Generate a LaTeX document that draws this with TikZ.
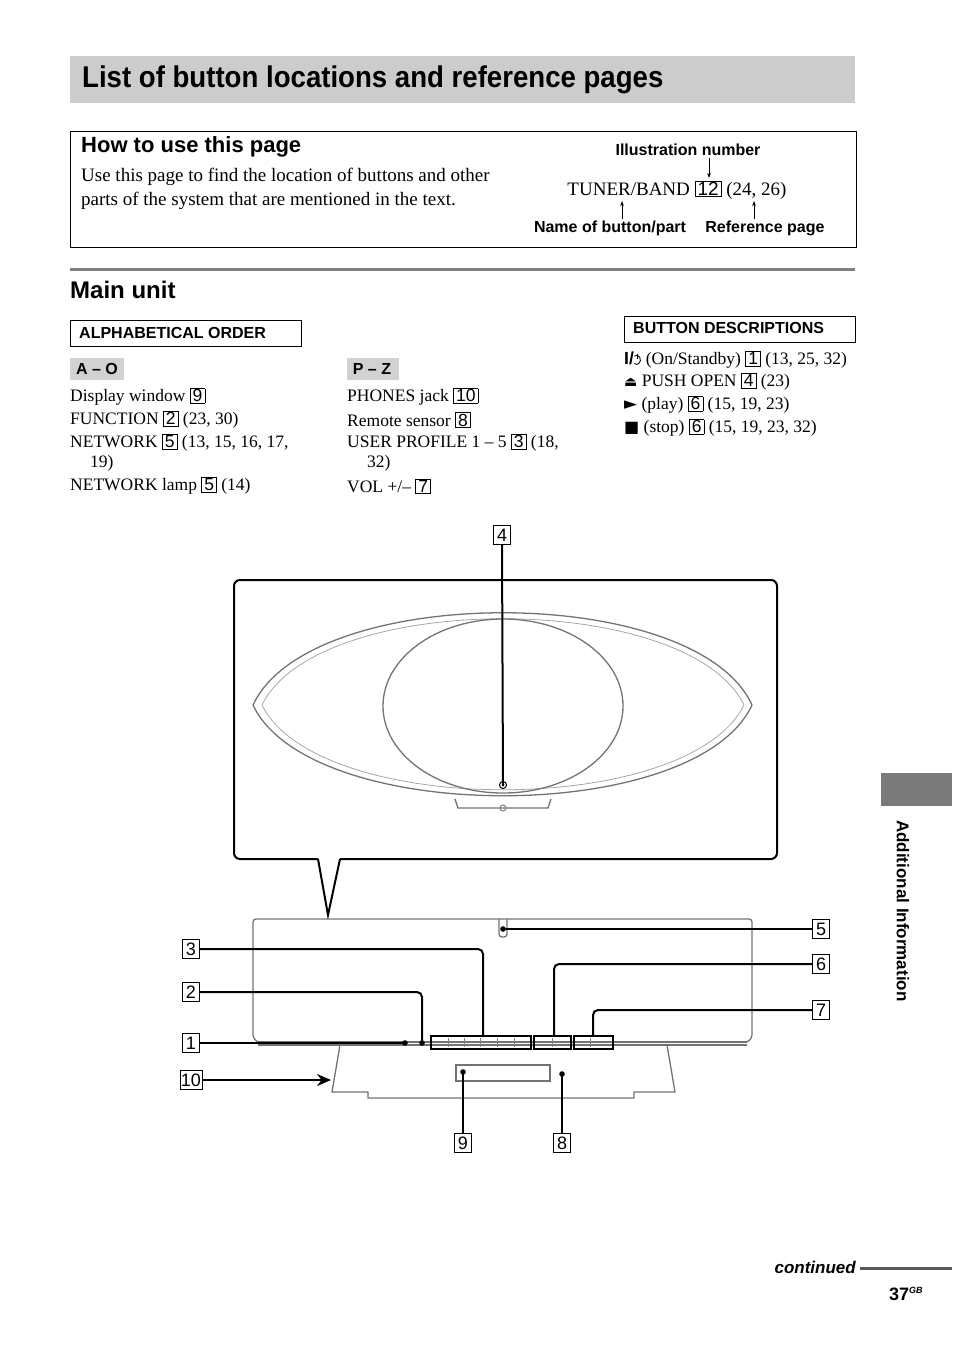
\documentclass[tikz,border=0pt]{standalone}
\usepackage{fontspec}
\setmainfont{Liberation Serif}
\setsansfont{Liberation Sans}
\newfontfamily\djv{DejaVu Sans}
\usetikzlibrary{arrows.meta}
\setlength{\fboxsep}{0.8pt}
\setlength{\fboxrule}{0.6pt}
\newcommand\nb[1]{\fbox{\hspace{1.5pt}\sffamily #1\hspace{1.5pt}}}
\newcommand\pwr{\tikz[baseline=0pt,line width=0.9pt]{\draw (0.28em,0.62em)--(0.28em,0.32em);\draw (0.1em,0.5em) arc (125:-125:0.22em and 0.26em);}}
\begin{document}
\begin{tikzpicture}[x=1pt,y=-1pt,
  body/.style={font=\fontsize{17.5}{20}\selectfont,anchor=west,inner sep=0pt},
  lbl/.style={font=\fontsize{16}{16}\selectfont\sffamily\bfseries,inner sep=0pt},
  numbox/.style={draw,line width=0.7pt,font=\fontsize{18}{18}\selectfont\sffamily,inner sep=1pt,minimum width=17pt,minimum height=19pt},
  lead/.style={line width=2pt,rounded corners=5pt},
  dev/.style={draw=gray!90!black,line width=1.3pt},
  dot/.style={circle,fill,inner sep=2pt}]
\useasboundingbox (0,0) rectangle (954,1352);
% title
\fill[gray!40] (70,56) rectangle (855,103);
\node[anchor=west,inner sep=0pt,xscale=0.92,transform shape,font=\fontsize{30}{30}\selectfont\sffamily\bfseries] (title) at (82,80) {List of button locations and reference pages};
% how to use
\draw[line width=0.8pt] (70,131) rectangle (856,247);
\node[anchor=west,inner sep=0pt,font=\fontsize{22}{22}\selectfont\sffamily\bfseries] (how) at (81,147) {How to use this page};
\node[body,anchor=north west,align=left,font=\fontsize{19}{24}\selectfont] (use) at (81,168) {Use this page to find the location of buttons and other\\parts of the system that are mentioned in the text.};
\node[lbl] (ill) at (688,150) {Illustration number};
\node[inner sep=0pt,font=\fontsize{19}{19}\selectfont] (tb) at (677,190) {TUNER/BAND \nb{12} (24, 26)};
\node[lbl] (nm) at (610,228) {Name of button/part};
\node[lbl] (rp) at (765,228) {Reference page};
\draw[-{Stealth[length=5pt]},line width=0.8pt] (709,158)--(709,178);
\draw[-{Stealth[length=5pt]},line width=0.8pt] (622,219)--(622,201);
\draw[-{Stealth[length=5pt]},line width=0.8pt] (754,219)--(754,201);
% main unit
\draw[gray,line width=3pt] (70,269)--(855,269);
\node[anchor=west,inner sep=0pt,font=\fontsize{24}{24}\selectfont\sffamily\bfseries] (mu) at (70,290) {Main unit};
\draw[line width=0.8pt] (70,320) rectangle (301,346);
\node[lbl,anchor=west] (alpha) at (79,333) {ALPHABETICAL ORDER};
\draw[line width=0.8pt] (624,316) rectangle (855,342);
\node[lbl,anchor=west] (bd) at (633,328) {BUTTON DESCRIPTIONS};
\fill[gray!35] (70,358) rectangle (124,380);
\node[lbl] (ao) at (97,369) {A – O};
\fill[gray!35] (347,358) rectangle (399,380);
\node[lbl] (pz) at (372,369) {P – Z};
% lists
\node[body] (l1) at (70,397) {Display window \nb{9}};
\node[body] (l2) at (70,420) {FUNCTION \nb{2} (23, 30)};
\node[body] (l3) at (70,443) {NETWORK \nb{5} (13, 15, 16, 17,};
\node[body] (l3b) at (90,463) {19)};
\node[body] (l4) at (70,486) {NETWORK lamp \nb{5} (14)};
\node[body] (r1) at (347,397) {PHONES jack \nb{10}};
\node[body] (r2) at (347,420) {Remote sensor \nb{8}};
\node[body] (r3) at (347,443) {USER PROFILE 1 – 5 \nb{3} (18,};
\node[body] (r3b) at (367,463) {32)};
\node[body] (r4) at (347,486) {VOL +/– \nb{7}};
\node[body] (b1) at (624,360) {\textbf{\sffamily I/}\pwr{} (On/Standby) \nb{1} (13, 25, 32)};
\node[body] (b2) at (624,382) {{\djv\fontsize{14}{14}\selectfont ⏏} PUSH OPEN \nb{4} (23)};
\node[body] (b3) at (624,405) {{\djv\fontsize{17}{17}\selectfont ►} (play) \nb{6} (15, 19, 23)};
\node[body] (b4) at (624,428) {{\djv\fontsize{16}{16}\selectfont ■} (stop) \nb{6} (15, 19, 23, 32)};
% side tab
\fill[gray!70!black!80] (881,773) rectangle (952,806);
\node[rotate=-90,anchor=west,inner sep=0pt,font=\fontsize{17}{17}\selectfont\sffamily\bfseries] (add) at (903,820) {Additional Information};
% continued
\node[anchor=east,inner sep=0pt,font=\fontsize{17}{17}\selectfont\sffamily\bfseries\itshape] (cont) at (856,1267) {continued};
\draw[gray!70!black,line width=3pt] (860,1268)--(952,1268);
\node[anchor=west,inner sep=0pt,font=\fontsize{18}{18}\selectfont\sffamily\bfseries] (pg) at (889,1294) {37\textsuperscript{\fontsize{9}{9}\selectfont\itshape GB}};
% callout
\draw[line width=2pt,rounded corners=6pt] (318,859)--(234,859)--(234,580)--(777,580)--(777,859)--(340,859);
\draw[line width=2pt] (318,859)--(328,915)--(340,859);
\draw[dev] (253,705) .. controls (310,582) and (696,582) .. (752,705) .. controls (696,826) and (310,826) .. (253,705);
\draw[draw=gray!70,line width=0.8pt] (262,705) .. controls (318,590) and (688,590) .. (744,705) .. controls (688,818) and (318,818) .. (262,705);
\draw[dev] (503,706) ellipse (120 and 87);
\draw[dev] (455,799)--(458,808)--(548,808)--(551,799);
\draw[draw=gray,line width=1pt] (503,808) circle (3);
\node[numbox] (n4) at (502,535) {4};
\node[circle,draw,line width=1pt,inner sep=2.5pt] (knob) at (503,785) {};
\draw[line width=2pt] (n4.south)--(knob.center);
\fill (knob.center) circle (1.5);
% lower unit
\draw[dev,rounded corners=3pt] (258,1042)--(253,1038)--(253,919)--(752,919)--(752,1038)--(747,1042);
\draw[dev] (258,1042)--(747,1042);
\draw[dev] (258,1045)--(747,1045);
\draw[dev] (340,1045)--(332,1092)--(368,1092)--(368,1098)--(634,1098)--(634,1092)--(675,1092)--(667,1045);
\draw[dev] (456,1065) rectangle (550,1081);
\draw[dev,rounded corners=3pt] (499,919)--(499,937)--(507,937)--(507,919);
% buttons
\draw[line width=2pt] (431,1036) rectangle (531,1049);
\draw[line width=2pt] (534,1036) rectangle (571,1049);
\draw[line width=2pt] (574,1036) rectangle (613,1049);
\foreach \x in {448,464,480,497,514,552,590} \draw[gray] (\x,1038)--(\x,1047);
% number labels
\node[numbox] (n3) at (191,949) {3};
\node[numbox] (n2) at (191,992) {2};
\node[numbox] (n1) at (191,1043) {1};
\node[numbox] (n10) at (191,1080) {10};
\node[numbox] (n5) at (821,929) {5};
\node[numbox] (n6) at (821,964) {6};
\node[numbox] (n7) at (821,1010) {7};
\node[numbox] (n9) at (463,1143) {9};
\node[numbox] (n8) at (562,1143) {8};
\coordinate (p3) at (483,1036);
\coordinate (p2) at (422,1043);
\coordinate (p1) at (405,1043);
\coordinate (p10) at (331,1080);
\coordinate (p5) at (503,929);
\coordinate (p6) at (554,1036);
\coordinate (p7) at (593,1036);
\coordinate (p9) at (463,1072);
\coordinate (p8) at (562,1074);
\draw[lead] (n3.east) -| (p3);
\draw[lead] (n2.east) -| (p2);
\draw[lead] (n1.east)--(p1);
\draw[lead,-{Stealth[length=14pt,width=12pt]}] (n10.east)--(p10);
\draw[lead] (n5.west)--(p5);
\draw[lead] (n6.west) -| (p6);
\draw[lead] (n7.west) -| (p7);
\draw[lead] (n9.north)--(p9);
\draw[lead] (n8.north)--(p8);
\foreach \p in {p2,p1,p5,p9,p8} \fill (\p) circle (2.8);
\end{tikzpicture}
\end{document}
